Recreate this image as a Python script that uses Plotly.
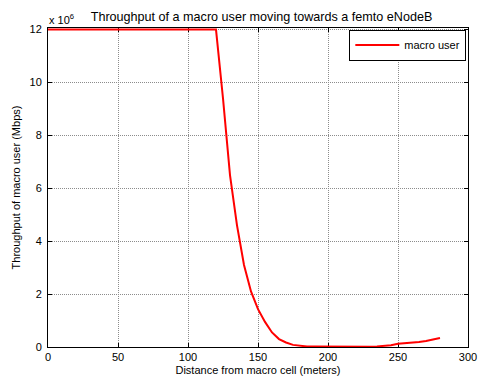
import plotly.graph_objects as go

distance_m = [0, 5, 10, 15, 20, 25, 30, 35, 40, 45, 50, 55, 60, 65, 70, 75, 80, 85, 90, 95,
              100, 105, 110, 115, 120, 125, 130, 135, 140, 145, 150, 155, 160, 165, 170,
              175, 180, 185, 190, 195, 200, 205, 210, 215, 220, 225, 230, 235, 240, 245,
              250, 255, 260, 265, 270, 275, 280]
throughput_bps = [12e6, 12e6, 12e6, 12e6, 12e6, 12e6, 12e6, 12e6, 12e6, 12e6,
                  12e6, 12e6, 12e6, 12e6, 12e6, 12e6, 12e6, 12e6, 12e6, 12e6,
                  12e6, 12e6, 12e6, 12e6, 12e6, 9.4e6, 6.5e6, 4.6e6, 3.1e6, 2.1e6,
                  1.43e6, 0.95e6, 0.55e6, 0.30e6, 0.17e6, 0.08e6, 0.04e6, 0.02e6,
                  0.015e6, 0.012e6, 0.01e6, 0.01e6, 0.01e6, 0.01e6, 0.01e6, 0.01e6,
                  0.012e6, 0.02e6, 0.035e6, 0.07e6, 0.12e6, 0.14e6, 0.17e6, 0.19e6,
                  0.23e6, 0.28e6, 0.34e6]
x_ticks = [0, 50, 100, 150, 200, 250, 300]
y_ticks = [0, 2e6, 4e6, 6e6, 8e6, 10e6, 12e6]
y_ticktext = ["0", "2", "4", "6", "8", "10", "12"]

FONT = "Liberation Sans, Arial, sans-serif"

fig = go.Figure()
fig.add_trace(go.Scatter(x=distance_m, y=throughput_bps, mode="lines",
                         line=dict(color="#ff0000", width=2), name="macro user"))

axis_common = dict(showline=True, linecolor="black", linewidth=1, mirror="allticks",
                   ticks="inside", ticklen=4, tickcolor="black", layer="below traces",
                   showgrid=True, gridcolor="#8c8c8c", griddash="1px,1px", gridwidth=1,
                   zeroline=False, tickfont=dict(family=FONT, size=11, color="black"))

fig.update_xaxes(range=[0, 300], tickvals=x_ticks,
                 title=dict(text="Distance from macro cell (meters)",
                            font=dict(family=FONT, size=11, color="black"), standoff=4),
                 **axis_common)
fig.update_yaxes(range=[0, 12.06e6], tickvals=y_ticks, ticktext=y_ticktext,
                 ticklabelstandoff=3,
                 title=dict(text="Throughput of macro user (Mbps)",
                            font=dict(family=FONT, size=11, color="black"), standoff=6),
                 **axis_common)

fig.update_layout(
    width=487, height=385,
    margin=dict(l=48, r=10, t=28, b=37),
    paper_bgcolor="white", plot_bgcolor="white",
    font=dict(family=FONT, size=11, color="black"),
    title=dict(text="Throughput of a macro user moving towards a femto eNodeB",
               x=0.537, xanchor="center", y=0.958, yanchor="middle",
               font=dict(family=FONT, size=12.6, color="black")),
    showlegend=True,
    legend=dict(x=0.996, y=0.995, xanchor="right", yanchor="top",
                bgcolor="white", bordercolor="black", borderwidth=1, itemwidth=44,
                font=dict(family=FONT, size=11, color="black")),
    annotations=[dict(text="x 10<sup>6</sup>", xref="paper", yref="paper",
                      x=-0.003, y=1.0, xanchor="left", yanchor="bottom",
                      showarrow=False, font=dict(family=FONT, size=11, color="black"))],
)

fig.write_html("out.html")
